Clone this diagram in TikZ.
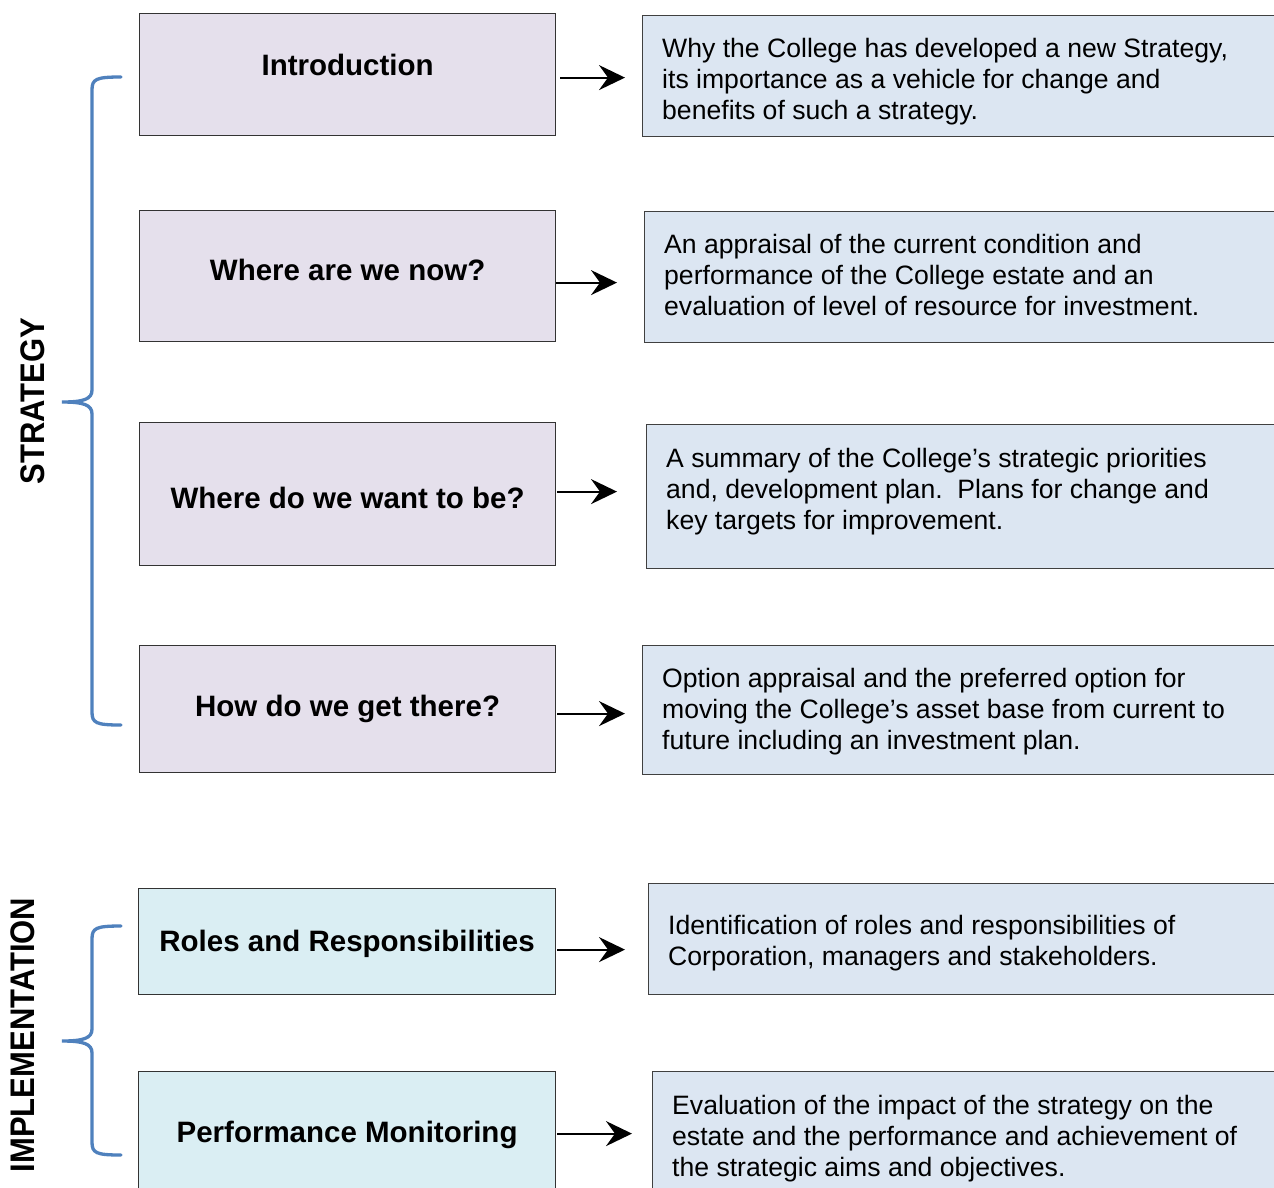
\documentclass[tikz,border=0pt]{standalone}
\usepackage{fontspec}
\setmainfont{Liberation Sans}
\usetikzlibrary{arrows.meta,calc}
\definecolor{lav}{HTML}{E5E0EC}
\definecolor{pblue}{HTML}{DCE6F2}
\definecolor{cyanl}{HTML}{DAEEF3}
\definecolor{brc}{HTML}{4F81BD}
\begin{document}
\begin{tikzpicture}[x=1pt,y=-1pt,
  lbox/.style={draw=black!80, line width=1.2pt, fill=lav, inner sep=0pt,
    minimum width=416pt, anchor=north west,
    font=\fontsize{29.5}{34}\selectfont\bfseries, text height=21pt, text depth=0pt},
  ibox/.style={lbox, fill=cyanl},
  rbox/.style={draw=black!75, line width=1.2pt, fill=pblue, inner sep=0pt,
    minimum width=660pt, anchor=north west},
  rtext/.style={anchor=north west, inner sep=0pt, align=left,
    font=\fontsize{26.6}{31}\selectfont},
  arr/.style={-{Stealth[length=26pt,width=25pt,inset=9pt]}, line width=2pt},
  bracepath/.style={draw=brc, line width=3.3pt, line cap=round},
  side/.style={rotate=90, yscale=1.1, inner sep=0pt, font=\fontsize{31}{36}\selectfont\bfseries}]
\clip (0,0) rectangle (1274,1187);
\fill[white] (0,0) rectangle (1274,1187);

% left boxes
\node[lbox, minimum height=122pt] (l1) at (139,13) {\raisebox{9.3pt}{Introduction}};
\node[lbox, minimum height=131pt] (l2) at (139,210) {\raisebox{6.5pt}{Where are we now?}};
\node[lbox, minimum height=143pt] (l3) at (139,422) {\raisebox{-3.5pt}{Where do we want to be?}};
\node[lbox, minimum height=127pt] (l4) at (139,645) {\raisebox{3.5pt}{How do we get there?}};
\node[ibox, minimum width=417pt, minimum height=106pt] (l5) at (138,888) {\raisebox{1pt}{Roles and Responsibilities}};
\node[ibox, minimum width=417pt, minimum height=129pt] (l6) at (138,1071) {\raisebox{4.5pt}{Performance Monitoring}};

% right boxes
\node[rbox, minimum height=121pt] (r1) at (642,15) {};
\node[rbox, minimum height=131pt] (r2) at (644,211) {};
\node[rbox, minimum height=144pt] (r3) at (646,424) {};
\node[rbox, minimum height=129pt] (r4) at (642,645) {};
\node[rbox, minimum height=111pt] (r5) at (648,883) {};
\node[rbox, minimum height=129pt] (r6) at (652,1071) {};

% right texts
\node[rtext] (t1) at (662,37.6) {Why the College has developed a new Strategy,\\its importance as a vehicle for change and\\benefits of such a strategy.};
\node[rtext] (t2) at (664,233.6) {An appraisal of the current condition and\\performance of the College estate and an\\evaluation of level of resource for investment.};
\node[rtext] (t3) at (666,447.6) {A summary of the College’s strategic priorities\\and, development plan.\ \ Plans for change and\\key targets for improvement.};
\node[rtext] (t4) at (662,667.6) {Option appraisal and the preferred option for\\moving the College’s asset base from current to\\future including an investment plan.};
\node[rtext] (t5) at (668,915.1) {Identification of roles and responsibilities of\\Corporation, managers and stakeholders.};
\node[rtext] (t6) at (672,1094.6) {Evaluation of the impact of the strategy on the\\estate and the performance and achievement of\\the strategic aims and objectives.};

% arrows
\coordinate (a1) at ([yshift=-3pt]l1.east);
\coordinate (a2) at ([yshift=-6.5pt]l2.east);
\coordinate (a3) at ([yshift=2.5pt]l3.east);
\coordinate (a4) at ([yshift=-4.5pt]l4.east);
\coordinate (a5) at ([yshift=-8pt]l5.east);
\coordinate (a6) at ([yshift=2.5pt]l6.east);
\draw[arr, shorten <=4pt, shorten >=17pt] (a1) -- (a1 -| r1.west);
\draw[arr, shorten >=27pt] (a2) -- (a2 -| r2.west);
\draw[arr, shorten <=1pt, shorten >=29pt] (a3) -- (a3 -| r3.west);
\draw[arr, shorten <=1pt, shorten >=17pt] (a4) -- (a4 -| r4.west);
\draw[arr, shorten <=1pt, shorten >=23pt] (a5) -- (a5 -| r5.west);
\draw[arr, shorten <=1pt, shorten >=20pt] (a6) -- (a6 -| r6.west);

% braces
\coordinate (b1t) at (121,77);
\coordinate (b1m) at (62,402);
\coordinate (b1b) at (121,725);
\draw[bracepath] (b1t) .. controls (96,77) and (92,79) .. (92,90) -- (92,390)
  .. controls (92,399) and (84,402) .. (b1m) .. controls (84,402) and (92,405) .. (92,414)
  -- (92,712) .. controls (92,723) and (96,725) .. (b1b);
\coordinate (b2t) at (121,926);
\coordinate (b2m) at (62,1041);
\coordinate (b2b) at (121,1155);
\draw[bracepath] (b2t) .. controls (96,926) and (92,928) .. (92,939) -- (92,1029)
  .. controls (92,1038) and (84,1041) .. (b2m) .. controls (84,1041) and (92,1044) .. (92,1053)
  -- (92,1142) .. controls (92,1153) and (96,1155) .. (b2b);

% side labels
\node[side] (s1) at (33,401) {STRATEGY};
\node[side] (s2) at (22.5,1035) {IMPLEMENTATION};
\end{tikzpicture}
\end{document}
